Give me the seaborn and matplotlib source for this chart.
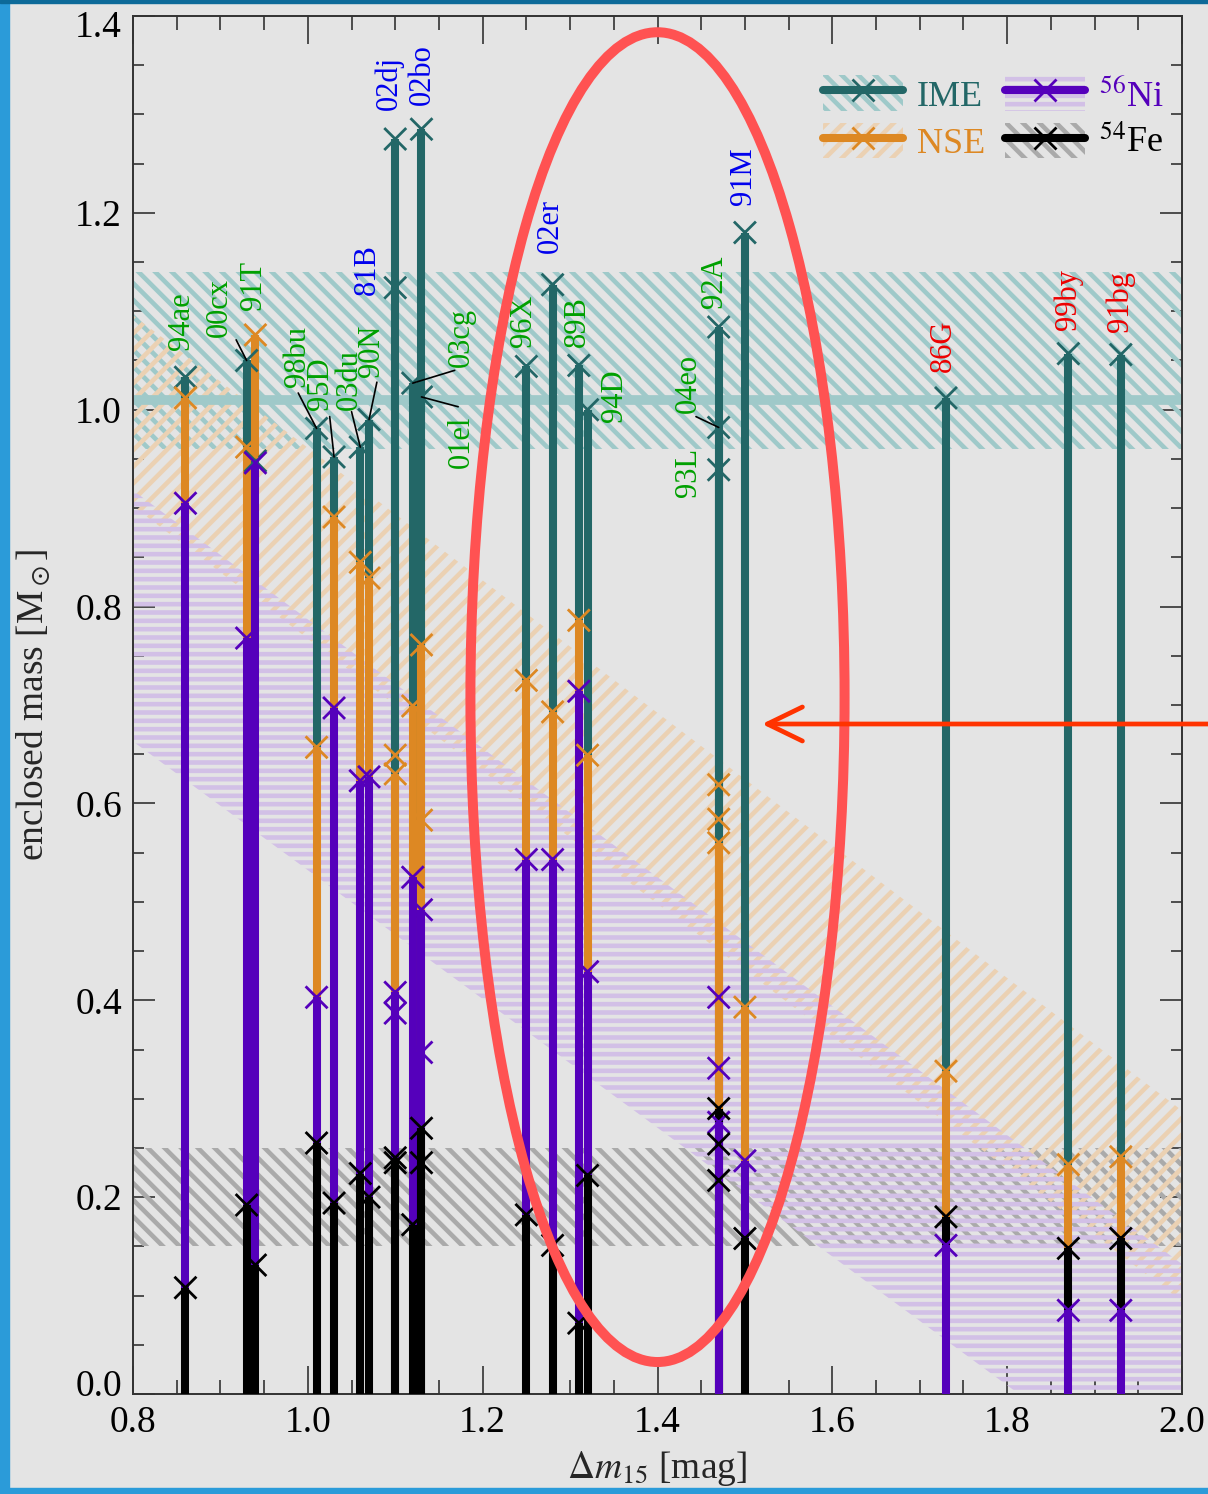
import numpy as np
import pandas as pd
import matplotlib
matplotlib.use("Agg")
import matplotlib.pyplot as plt
import matplotlib.ticker as mticker
import matplotlib.transforms as mtransforms
from matplotlib.patches import Ellipse, Rectangle, Patch
from matplotlib.lines import Line2D
from matplotlib.legend_handler import HandlerTuple
import seaborn as sns

# ---------------------------------------------------------------- data
sn_names = ["94ae", "00cx", "91T", "98bu", "95D", "03du", "90N", "81B", "02dj",
            "03cg", "01el", "02bo", "96X", "02er", "89B", "94D", "92A", "04eo",
            "93L", "91M", "86G", "99by", "91bg"]
dm15 = [0.86, 0.93, 0.94, 1.01, 1.03, 1.06, 1.07, 1.10, 1.10,
        1.12, 1.13, 1.13, 1.25, 1.28, 1.31, 1.32, 1.47, 1.47,
        1.47, 1.50, 1.73, 1.87, 1.93]
m_ime = [1.033, 1.050, 0.948, 0.981, 0.952, 0.962, 0.990, 1.124, 1.275,
         1.027, 1.013, 1.285, 1.044, 1.127, 1.045, 1.000, 1.084, 0.982,
         0.939, 1.180, 1.012, 1.057, 1.056]
m_nse = [1.012, 0.962, 1.076, 0.657, 0.891, 0.845, 0.829, 0.649, 0.630,
         0.699, 0.583, 0.761, 0.725, 0.693, 0.786, 0.649, 0.619, 0.584,
         0.560, 0.393, 0.328, 0.233, 0.241]
m_ni = [0.905, 0.768, 0.946, 0.403, 0.697, 0.623, 0.627, 0.387, 0.408,
        0.525, 0.347, 0.492, 0.543, 0.543, 0.714, 0.429, 0.403, 0.331,
        0.276, 0.237, 0.151, 0.085, 0.085]
m_fe = [0.108, 0.192, 0.131, 0.255, 0.194, 0.224, 0.200, 0.235, 0.240,
        0.172, 0.235, 0.270, 0.182, 0.151, 0.072, 0.222, 0.254, 0.217,
        0.290, 0.158, 0.180, 0.148, 0.158]
# label colour class: g = normal, b = broad-line, r = faint
sn_class = ["g", "g", "g", "g", "g", "g", "g", "b", "b",
            "g", "g", "b", "g", "b", "g", "g", "g", "g",
            "g", "b", "r", "r", "r"]

# shaded bands (average relations)
ime_band = [0.96, 1.14]
ime_mean = 1.01
fe_band = [0.15, 0.25]
band_x = [0.8, 2.0]
nse_upper = [1.096, 0.288]
nse_lower = [0.902, 0.094]
ni_upper = [0.918, 0.132]
ni_lower = [0.663, -0.122]

# label placement (x, y of the label foot) and optional leader start
label_x = [0.856, 0.899, 0.938, 0.988, 1.014, 1.047, 1.073, 1.068, 1.093,
           1.176, 1.176, 1.131, 1.247, 1.277, 1.308, 1.351, 1.465, 1.435,
           1.435, 1.498, 1.727, 1.870, 1.929]
label_y = [1.061, 1.074, 1.101, 1.023, 1.000, 1.000, 1.033, 1.117, 1.304,
           1.043, 0.941, 1.310, 1.064, 1.159, 1.064, 0.988, 1.103, 0.997,
           0.911, 1.208, 1.038, 1.081, 1.079]
leader_from = {"00cx": (0.918, 1.071), "98bu": (0.989, 1.017),
               "95D": (1.025, 0.993), "03du": (1.050, 0.998),
               "90N": (1.079, 1.028), "03cg": (1.168, 1.040),
               "01el": (1.172, 1.003), "04eo": (1.444, 0.993)}

# ---------------------------------------------------------------- style
BG = "#e4e4e4"
C_IME, C_NSE, C_NI, C_FE = "#236767", "#dd8823", "#5500bb", "#000000"
B_IME, B_NSE, B_NI, B_FE = "#9fc9c9", "#ebd1b3", "#d2c0e6", "#aaaaaa"
LABEL_COL = {"g": "#00a000", "b": "#0000ee", "r": "#ee0000"}
SERIF = ["Liberation Serif", "DejaVu Serif"]

sns.set_theme(style="ticks", rc={"axes.facecolor": BG, "figure.facecolor": BG})
plt.rcParams["font.family"] = SERIF
plt.rcParams["mathtext.fontset"] = "stix"
plt.rcParams["hatch.linewidth"] = 3.3

fig = plt.figure(figsize=(12.08, 14.94), dpi=100)
ax = fig.add_axes([133 / 1208, 1 - 1394 / 1494, 1049 / 1208, 1378 / 1494])
ax.set_facecolor(BG)

# bands
ax.fill_between(band_x, ime_band[0], ime_band[1], facecolor="none",
                edgecolor=B_IME, hatch="\\\\", linewidth=0, zorder=1)
ax.axhline(ime_mean, color=B_IME, lw=7, zorder=1.1)
ax.fill_between(band_x, fe_band[0], fe_band[1], facecolor="none",
                edgecolor=B_FE, hatch="\\\\", linewidth=0, zorder=1)
ax.fill_between(band_x, nse_lower, nse_upper, facecolor="none",
                edgecolor=B_NSE, hatch="//", linewidth=0, zorder=1)
ax.fill_between(band_x, ni_lower, ni_upper, facecolor="none",
                edgecolor=B_NI, hatch="--", linewidth=0, zorder=1)

# stacked columns: each zone drawn from the next lower boundary
seg_x, seg_lo, seg_hi, seg_c = [], [], [], []
for i in range(len(sn_names)):
    zones = sorted([(m_fe[i], C_FE), (m_ni[i], C_NI),
                    (m_nse[i], C_NSE), (m_ime[i], C_IME)])
    lo = 0.0
    for hi, col in zones:
        seg_x.append(dm15[i]); seg_lo.append(lo); seg_hi.append(hi); seg_c.append(col)
        lo = hi
ax.vlines(seg_x, seg_lo, seg_hi, colors=seg_c, linewidth=5.8, zorder=3,
          capstyle="butt")

marks = pd.concat([
    pd.DataFrame({"dm15": dm15, "mass": m_ime, "species": "IME"}),
    pd.DataFrame({"dm15": dm15, "mass": m_nse, "species": "NSE"}),
    pd.DataFrame({"dm15": dm15, "mass": m_ni, "species": "Ni"}),
    pd.DataFrame({"dm15": dm15, "mass": m_fe, "species": "Fe"}),
], ignore_index=True)
sns.scatterplot(data=marks, x="dm15", y="mass", hue="species",
                hue_order=["IME", "NSE", "Ni", "Fe"],
                palette=[C_IME, C_NSE, C_NI, C_FE], marker="x", s=250,
                linewidth=2.0, legend=False, ax=ax, zorder=4)

# supernova names
for i, name in enumerate(sn_names):
    ax.text(label_x[i], label_y[i], name, rotation=90, ha="center", va="bottom",
            color=LABEL_COL[sn_class[i]], fontsize=22, zorder=5,
            family=SERIF)
    if name in leader_from:
        ax.annotate("", xy=(dm15[i], m_ime[i]), xytext=leader_from[name],
                    arrowprops=dict(arrowstyle="-", color="black", lw=1.2,
                                    shrinkA=0, shrinkB=0), zorder=5)

# axes
ax.set_xlim(0.8, 2.0)
ax.set_ylim(0.0, 1.4)
ax.xaxis.set_major_locator(mticker.MultipleLocator(0.2))
ax.xaxis.set_minor_locator(mticker.MultipleLocator(0.05))
ax.yaxis.set_major_locator(mticker.MultipleLocator(0.2))
ax.yaxis.set_minor_locator(mticker.MultipleLocator(0.05))
ax.xaxis.set_major_formatter(mticker.FormatStrFormatter("%.1f"))
ax.yaxis.set_major_formatter(mticker.FormatStrFormatter("%.1f"))
ax.tick_params(axis="both", which="both", direction="in", top=True, right=True,
               color="#333333", width=1.2, labelsize=27, labelcolor="black",
               labelfontfamily="Liberation Serif")
ax.tick_params(axis="x", which="major", length=20, pad=8)
ax.tick_params(axis="x", which="minor", length=10)
ax.tick_params(axis="y", which="major", length=16, pad=8)
ax.tick_params(axis="y", which="minor", length=8)
for sp in ax.spines.values():
    sp.set_color("#333333")
    sp.set_linewidth(1.4)

ax.set_xlabel(r"$\Delta m_{15}$ [mag]", fontsize=27)
ax.set_ylabel(r"enclosed mass [M$_\odot$]", fontsize=27)
ax.xaxis.set_label_coords(0.5, -0.040)
ax.yaxis.set_label_coords(-0.077, 0.5)

# keep the end labels of the y axis inside the frame
for tick in ax.yaxis.get_major_ticks():
    loc = tick.get_loc()
    if abs(loc) < 1e-6:
        off = mtransforms.ScaledTranslation(0, 0.11, fig.dpi_scale_trans)
        tick.label1.set_transform(tick.label1.get_transform() + off)
    elif abs(loc - 1.4) < 1e-6:
        off = mtransforms.ScaledTranslation(0, -0.08, fig.dpi_scale_trans)
        tick.label1.set_transform(tick.label1.get_transform() + off)

# legend: hatched band behind a line with marker
def handle(band_col, hatch, col):
    return (Patch(facecolor="none", edgecolor=band_col, hatch=hatch, linewidth=0),
            Line2D([], [], color=col, lw=5.8, marker="x", ms=16, mew=2.0))

handles = [handle(B_IME, "\\\\", C_IME), handle(B_NSE, "//", C_NSE),
           handle(B_NI, "--", C_NI), handle(B_FE, "\\\\", C_FE)]
labels = ["IME", "NSE", r"$^{56}$Ni", r"$^{54}$Fe"]
leg = ax.legend(handles, labels, handler_map={tuple: HandlerTuple(ndivide=1, pad=0)},
                ncol=2, loc="upper right", bbox_to_anchor=(1.0, 0.970),
                frameon=False, fontsize=26, handlelength=2.2, handleheight=1.15,
                handletextpad=0.4, columnspacing=0.55, labelspacing=0.25,
                borderpad=0)
for txt, col in zip(leg.get_texts(), [C_IME, C_NSE, C_NI, C_FE]):
    txt.set_color(col)

# highlight around the mid-range objects
ax.add_patch(Ellipse((1.40, 0.708), width=0.428, height=1.351, fill=False,
                     edgecolor="#ff5252", lw=7.2, zorder=10, clip_on=False))
ax.annotate("", xy=(762 / 1208, 1 - 724 / 1494), xycoords="figure fraction",
            xytext=(1.0, 1 - 724 / 1494), textcoords="figure fraction",
            arrowprops=dict(arrowstyle="->,head_length=0.7,head_width=0.34",
                            color="#ff3300", lw=3.4, shrinkA=0, shrinkB=0,
                            mutation_scale=36, capstyle="round",
                            joinstyle="round"),
            annotation_clip=False, zorder=11)

# slide frame
fig.add_artist(Rectangle((0, 0), 9 / 1208, 1, transform=fig.transFigure,
                         color="#2b9bd9", zorder=20))
fig.add_artist(Rectangle((0, 0), 1, 6 / 1494, transform=fig.transFigure,
                         color="#2b9bd9", zorder=20))
fig.add_artist(Rectangle((0, 1 - 3 / 1494), 1, 3 / 1494, transform=fig.transFigure,
                         color="#0d6a99", zorder=20))

fig.savefig("out.png", dpi=100, facecolor=BG)
